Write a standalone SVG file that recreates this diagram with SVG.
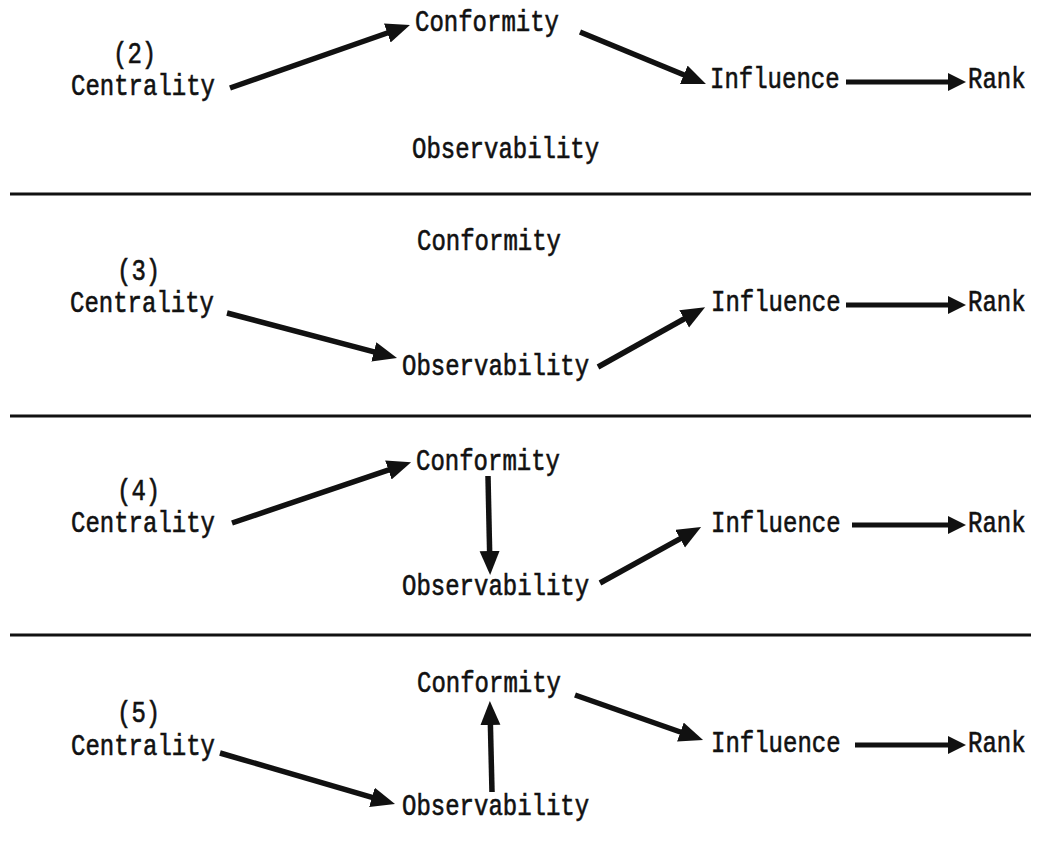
<svg xmlns="http://www.w3.org/2000/svg" width="1037" height="855" viewBox="0 0 1037 855">
  <style>
    /* typewriter labels: 24px mono, stretched vertically by each group's transform */
    .lbl { font-family: "Liberation Mono", "Courier New", monospace; font-size: 24px; font-weight: normal; fill: #111; stroke: #111; stroke-width: 0.5; }
    .rule { stroke: #111; stroke-width: 3; fill: none; }
    .arr { stroke: #111; stroke-width: 5.5; fill: none; marker-end: url(#head); }
    .arr-h { stroke: #111; stroke-width: 5; fill: none; marker-end: url(#headSmall); }
  </style>
  <defs>
    <marker id="head" markerUnits="userSpaceOnUse" markerWidth="26" markerHeight="22" refX="9" refY="10" orient="auto">
      <path d="M0,0 L24,10 L0,20 z" fill="#111"/>
    </marker>
    <marker id="headSmall" markerUnits="userSpaceOnUse" markerWidth="20" markerHeight="20" refX="6" refY="9" orient="auto">
      <path d="M0,0 L18,9 L0,18 z" fill="#111"/>
    </marker>
  </defs>
  <rect width="1037" height="855" fill="#fff"/>

  <!-- section rules -->
  <g id="rules">
    <line class="rule" x1="10" y1="194" x2="1031" y2="194"/>
    <line class="rule" x1="10" y1="416" x2="1031" y2="416"/>
    <line class="rule" x1="10" y1="635" x2="1031" y2="635"/>
  </g>

  <!-- model (2) -->
  <g id="m2-num" transform="translate(113,63) scale(1,1.25)"><text class="lbl">(2)</text></g>
  <g id="m2-centrality" transform="translate(71,95) scale(1,1.25)"><text class="lbl">Centrality</text></g>
  <g id="m2-conformity" transform="translate(415,31) scale(1,1.25)"><text class="lbl">Conformity</text></g>
  <g id="m2-influence" transform="translate(710,88) scale(1,1.25)"><text class="lbl">Influence</text></g>
  <g id="m2-rank" transform="translate(968,88) scale(1,1.25)"><text class="lbl">Rank</text></g>
  <g id="m2-observability" transform="translate(412,158) scale(1,1.25)"><text class="lbl">Observability</text></g>

  <!-- model (3) -->
  <g id="m3-conformity" transform="translate(417,250) scale(1,1.25)"><text class="lbl">Conformity</text></g>
  <g id="m3-num" transform="translate(117,280) scale(1,1.25)"><text class="lbl">(3)</text></g>
  <g id="m3-centrality" transform="translate(70,312) scale(1,1.25)"><text class="lbl">Centrality</text></g>
  <g id="m3-influence" transform="translate(711,311) scale(1,1.25)"><text class="lbl">Influence</text></g>
  <g id="m3-rank" transform="translate(968,311) scale(1,1.25)"><text class="lbl">Rank</text></g>
  <g id="m3-observability" transform="translate(402,375) scale(1,1.25)"><text class="lbl">Observability</text></g>

  <!-- model (4) -->
  <g id="m4-conformity" transform="translate(416,470) scale(1,1.25)"><text class="lbl">Conformity</text></g>
  <g id="m4-num" transform="translate(117,500) scale(1,1.25)"><text class="lbl">(4)</text></g>
  <g id="m4-centrality" transform="translate(71,532) scale(1,1.25)"><text class="lbl">Centrality</text></g>
  <g id="m4-influence" transform="translate(711,532) scale(1,1.25)"><text class="lbl">Influence</text></g>
  <g id="m4-rank" transform="translate(968,532) scale(1,1.25)"><text class="lbl">Rank</text></g>
  <g id="m4-observability" transform="translate(402,595) scale(1,1.25)"><text class="lbl">Observability</text></g>

  <!-- model (5) -->
  <g id="m5-conformity" transform="translate(417,692) scale(1,1.25)"><text class="lbl">Conformity</text></g>
  <g id="m5-num" transform="translate(117,722) scale(1,1.25)"><text class="lbl">(5)</text></g>
  <g id="m5-centrality" transform="translate(71,755) scale(1,1.25)"><text class="lbl">Centrality</text></g>
  <g id="m5-influence" transform="translate(711,752) scale(1,1.25)"><text class="lbl">Influence</text></g>
  <g id="m5-rank" transform="translate(968,752) scale(1,1.25)"><text class="lbl">Rank</text></g>
  <g id="m5-observability" transform="translate(402,815) scale(1,1.25)"><text class="lbl">Observability</text></g>

  <!-- connectors: each line ends 15px short of its arrow tip; the marker supplies the point -->
  <g id="connectors">
    <!-- (2) -->
    <line class="arr" x1="230" y1="88" x2="395.8" y2="30"/>
    <line class="arr" x1="580" y1="32" x2="692.1" y2="78.3"/>
    <line class="arr-h" x1="846" y1="82" x2="954" y2="82"/>
    <!-- (3) -->
    <line class="arr" x1="227" y1="313" x2="382.5" y2="354.2"/>
    <line class="arr" x1="598" y1="367" x2="692" y2="314.5"/>
    <line class="arr-h" x1="846" y1="305" x2="954" y2="305"/>
    <!-- (4) -->
    <line class="arr" x1="232" y1="523" x2="396.9" y2="467.1"/>
    <line class="arr" x1="488" y1="476" x2="489.8" y2="560"/>
    <line class="arr" x1="600" y1="583" x2="688" y2="534.3"/>
    <line class="arr-h" x1="852" y1="525" x2="954" y2="525"/>
    <!-- (5) -->
    <line class="arr" x1="220" y1="753" x2="380.6" y2="799.8"/>
    <line class="arr" x1="492" y1="792" x2="490.2" y2="716"/>
    <line class="arr" x1="575" y1="695" x2="688.9" y2="735"/>
    <line class="arr-h" x1="855" y1="745" x2="954" y2="745"/>
  </g>
</svg>
